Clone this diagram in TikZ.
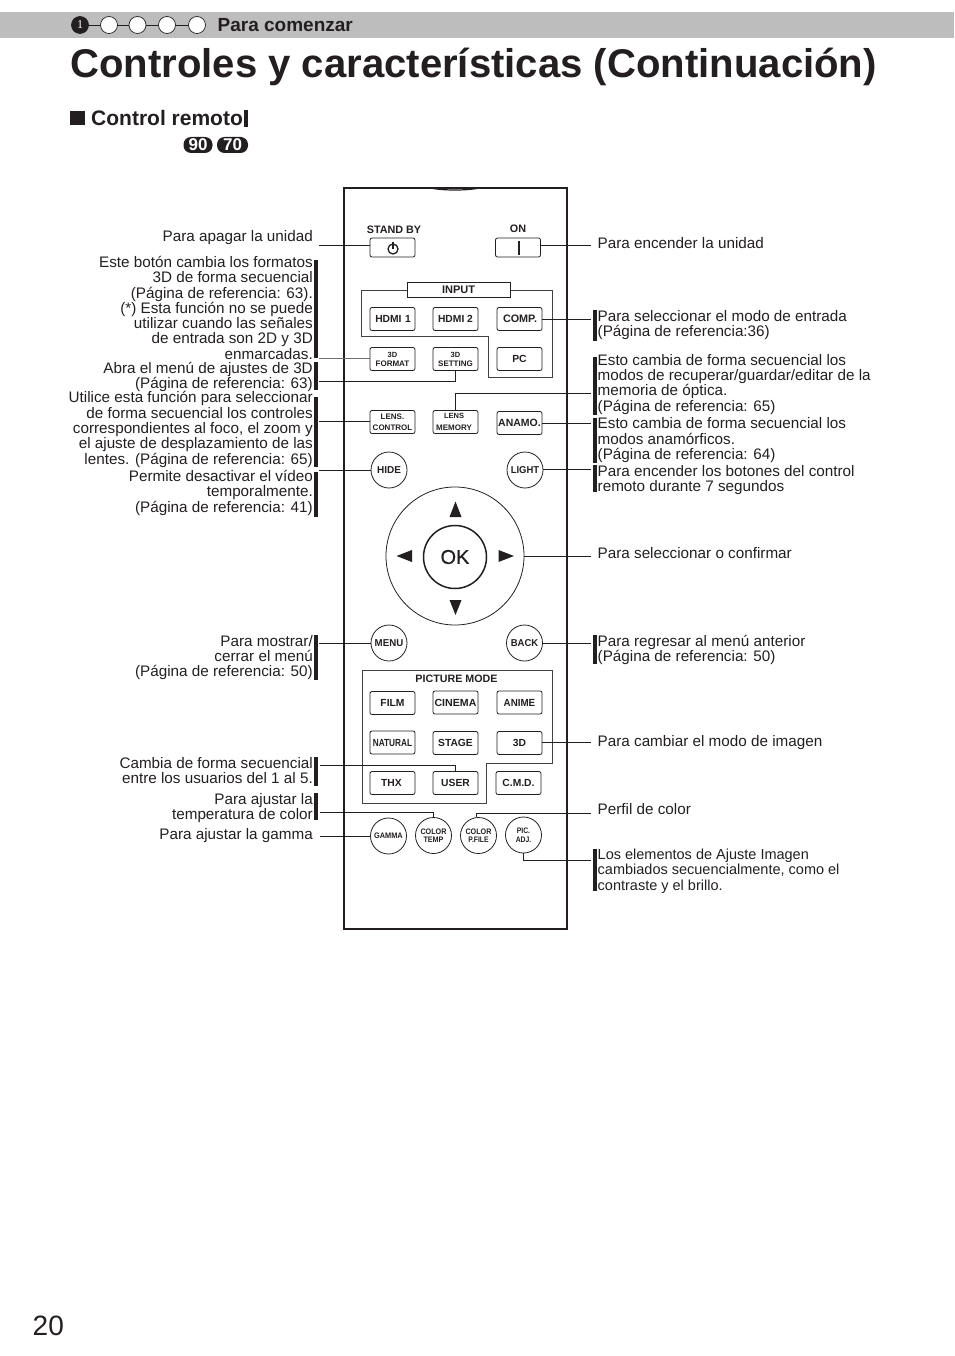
\documentclass[tikz,border=0pt]{standalone}
\usepackage{fontspec}
\usepackage{graphicx}
\setmainfont{Liberation Sans}
\newfontfamily\serifone{Liberation Serif}
\newfontfamily\okfont[FakeBold=0.7]{Liberation Sans}
\definecolor{ink}{HTML}{231F20}
\definecolor{band}{HTML}{BDBDBD}
\newcommand{\tl}{\rule{0pt}{11pt}}
\newcommand{\btnfont}[1]{\fontsize{#1}{#1}\selectfont\bfseries}
\tikzset{
  x=1pt,y=-1pt,
  rbtn/.style={draw=ink,line width=.8pt,rounded corners=2pt,minimum width=45pt,minimum height=23pt,inner sep=0pt,align=center,text=ink,font=\btnfont{10.3}},
  sbtn/.style={rbtn,font=\fontsize{8}{9.5}\selectfont\bfseries},
  cbtn/.style={draw=ink,line width=.8pt,circle,minimum size=36pt,inner sep=0pt,align=center,text=ink,font=\btnfont{10}},
  cbtnsm/.style={cbtn,font=\fontsize{8}{8.5}\selectfont\bfseries},
  conn/.style={draw=ink,line width=.8pt},
  bar/.style={draw=ink,line width=3.2pt},
  ltext/.style={anchor=north east,inner sep=0pt,align=right,text=ink,font=\fontsize{15.25}{15.3}\selectfont},
  rtext/.style={anchor=north west,inner sep=0pt,align=left,text=ink,font=\fontsize{15.25}{15.3}\selectfont},
  frame/.style={draw=ink!85,line width=1pt},
  stepdot/.style={circle,draw=ink,line width=.7pt,fill=white,minimum size=17pt,inner sep=0pt},
  badge/.style={fill=ink,rounded corners=7.5pt,text=white,inner sep=0pt,font=\fontsize{17}{17}\selectfont\bfseries},
  tri/.style={fill=ink,draw=none},
}
\begin{document}
\begin{tikzpicture}
\useasboundingbox (0,0) rectangle (954,1356);
% header
\fill[band] (0,12) rectangle (954,38.5);
\node[stepdot,fill=ink] (d1) at (80,25) {\textcolor{white}{\serifone\fontsize{12}{12}\selectfont 1}};
\node[stepdot] (d2) at (109,25) {};
\node[stepdot] (d3) at (137.5,25) {};
\node[stepdot] (d4) at (167,25) {};
\node[stepdot] (d5) at (197,25) {};
\draw[conn] (d1)--(d2);\draw[conn] (d2)--(d3);\draw[conn] (d3)--(d4);\draw[conn] (d4)--(d5);
\node[anchor=base west,inner sep=0pt,text=ink,font=\fontsize{19}{19}\selectfont\bfseries] (head) at (217.5,31.5) {Para comenzar};
\node[anchor=base west,inner sep=0pt,text=ink,font=\fontsize{40.1}{40.1}\selectfont\bfseries] (title) at (70,78) {Controles y características (Continuación)};
\fill[ink] (70,111) rectangle (85,125);
\node[anchor=base west,inner sep=0pt,text=ink,font=\fontsize{21}{21}\selectfont\bfseries] (sect) at (91,126) {Control remoto};
\draw[bar] (246,110)--(246,127);
\node[badge,minimum width=29pt,minimum height=16pt] (b90) at (198,145) {90};
\node[badge,minimum width=31pt,minimum height=16pt] (b70) at (232.5,145) {70};
\node[anchor=base west,inner sep=0pt,text=ink,font=\fontsize{28}{28}\selectfont] (page) at (32.5,1335) {20};
% remote body
\draw[ink,line width=1.7pt] (344,188) rectangle (567,929);
\draw[ink,line width=1.2pt] (433,188.5) .. controls (445,190.5) and (465,190.5) .. (477,188.5);
% frames
\draw[frame] (361,290)--(552,290)--(552,377)--(488,377)--(488,336)--(361,336)--cycle;
\draw[frame] (362,670)--(552,670)--(552,763)--(486,763)--(486,803)--(362,803)--cycle;
\node[draw=ink,line width=.9pt,fill=white,minimum width=103pt,minimum height=15pt,inner sep=0pt,text=ink,font=\btnfont{11}] (input) at (458.5,289.5) {INPUT};
\node[inner sep=0pt,text=ink,font=\btnfont{10.7}] (pmode) at (456.5,679) {PICTURE MODE};
% power row
\node[inner sep=0pt,text=ink,font=\btnfont{10.8}] (sbl) at (394,229.5) {STAND BY};
\node[inner sep=0pt,text=ink,font=\btnfont{10.8}] (onl) at (518,228.5) {ON};
\node[rbtn,minimum height=19pt] (sb) at (392.5,247.5) {};
\node[rbtn,minimum height=19pt] (on) at (518,247.5) {};
\draw[ink,line width=1.3pt] (393,249) circle (5);
\draw[ink,line width=1.3pt] (393,242)--(393,249);
\draw[ink,line width=1.6pt] (519,241)--(519,255);
% input buttons
\node[rbtn,text width=45pt] (h1) at (392.5,319) {\hspace*{1pt}HDMI 1};
\node[rbtn] (h2) at (455.5,319) {HDMI 2};
\node[rbtn] (comp) at (519.5,319) {\fontsize{10.8}{10.8}\selectfont\hspace*{1pt}COMP.};
\node[sbtn] (fmt) at (392.5,359) {\fontsize{7.5}{9.5}\selectfont 3D\\[-.5pt]FORMAT};
\node[sbtn] (set) at (455.5,359) {\fontsize{7.5}{9.5}\selectfont 3D\\[-.5pt]SETTING};
\node[rbtn] (pc) at (519.5,359) {PC};
\node[sbtn] (lc) at (392.5,422) {\fontsize{8}{10}\selectfont LENS.\\[1pt]CONTROL};
\node[sbtn] (lm) at (455.5,422) {\fontsize{7.5}{10}\selectfont\hspace*{-3pt}LENS\\[2pt]\hspace*{-3pt}MEMORY};
\node[rbtn] (ana) at (519.5,423) {\fontsize{10.5}{10.5}\selectfont ANAMO.};
\node[cbtn] (hide) at (389,470) {HIDE};
\node[cbtn] (light) at (525,470) {\scalebox{.95}[1]{LIGHT}};
% d-pad
\node[draw=ink,line width=.8pt,circle,minimum size=138pt,inner sep=0pt] (pad) at (455,556) {};
\node[draw=ink,line width=1.5pt,circle,minimum size=63pt,inner sep=0pt,text=ink,font=\fontsize{20}{20}\selectfont\okfont] (ok) at (455,557) {OK};
\fill[tri] (455.5,501.5)--(461.5,517)--(449.5,517)--cycle;
\fill[tri] (455.5,615)--(461.5,600)--(449.5,600)--cycle;
\fill[tri] (396.5,556)--(412,550)--(412,562)--cycle;
\fill[tri] (514,556)--(498.5,550)--(498.5,562)--cycle;
\node[cbtn] (menu) at (389,643) {\scalebox{.97}[1]{MENU}};
\node[cbtn] (back) at (524.5,643) {\scalebox{.95}[1]{BACK}};
% picture mode
\node[rbtn] (film) at (392.5,703) {FILM};
\node[rbtn] (cin) at (455.5,702.5) {\scalebox{1.03}[1]{CINEMA}};
\node[rbtn] (ani) at (519.5,702.5) {\scalebox{.95}[1]{ANIME}};
\node[rbtn] (nat) at (392.5,742.5) {\scalebox{.8}[1]{NATURAL}};
\node[rbtn] (stage) at (455.5,743) {STAGE};
\node[rbtn] (td) at (519.5,743) {3D};
\node[rbtn] (thx) at (392.5,783) {\hspace*{-2pt}THX};
\node[rbtn] (user) at (455.5,783) {USER};
\node[rbtn] (cmd) at (518.5,783) {C.M.D.};
% bottom circles
\node[cbtnsm] (gam) at (388.5,836) {\scalebox{.92}[1]{GAMMA}};
\node[cbtnsm] (ct) at (433.5,835.5) {\scalebox{.9}[1]{COLOR}\\\scalebox{.9}[1]{TEMP}};
\node[cbtnsm] (cp) at (478.5,835.5) {\scalebox{.9}[1]{COLOR}\\\scalebox{.85}[1]{P.FILE}};
\node[cbtnsm] (pa) at (523.5,835) {\scalebox{.85}[1]{PIC.}\\\scalebox{.85}[1]{ADJ.}};
% free ends, left
\coordinate (a1) at (319,245);
\coordinate (a2) at (319,358);
\coordinate (a3) at (319,381.5);
\coordinate (a4) at (319,421.5);
\coordinate (a5) at (319,470);
\coordinate (a6) at (319,643);
\coordinate (a7) at (320,765);
\coordinate (a8) at (320,812);
\coordinate (a9) at (320,836);
% free ends, right
\coordinate (r1) at (591,245);
\coordinate (r2) at (591,319);
\coordinate (r3) at (591,393);
\coordinate (r4) at (591,423);
\coordinate (r5) at (591,469);
\coordinate (r6) at (591,556);
\coordinate (r7) at (591,643);
\coordinate (r8) at (591,742);
\coordinate (r9) at (591,813);
\coordinate (r10) at (591,860);
% connectors
\draw[conn] (a1) -- (a1 -| sb.west);
\draw[conn,draw=ink!65] (a2) -- (a2 -| fmt.west);
\draw[conn] (a3) -- (a3 -| set.south) -- (set.south);
\draw[conn] (a4) -- (a4 -| lc.west);
\draw[conn] (a5) -- (hide.west);
\draw[conn] (a6) -- (menu.west);
\draw[conn] (a7) -- (a7 -| user.north) -- (user.north);
\draw[conn] (a8) -- (a8 -| ct.north) -- (ct.north);
\draw[conn] (a9) -- (gam.west);
\draw[conn] (r1) -- (r1 -| on.east);
\draw[conn] (r2) -- (r2 -| comp.east);
\draw[conn] (r3) -- (r3 -| lm.north) -- (lm.north);
\draw[conn] (r4) -- (r4 -| ana.east);
\draw[conn] (r5) -- (r5 -| light.east);
\draw[conn] (r6) -- (r6 -| pad.east);
\draw[conn] (r7) -- (r7 -| back.east);
\draw[conn] (r8) -- (r8 -| td.east);
\draw[conn] (r9) -- ([xshift=-2.5pt]r9 -| cp.north) -- ([xshift=-2.5pt]cp.north);
\draw[conn] (r10) -- (r10 -| pa.south) -- (pa.south);
% bars, left
\draw[bar] (316,260)--(316,358);
\draw[bar] (316,362)--(316,390);
\draw[bar] (316,397)--(316,467);
\draw[bar] (316,472)--(316,517);
\draw[bar] (316,635)--(316,680);
\draw[bar] (316,757)--(316,786);
\draw[bar] (316,793)--(316,820);
% bars, right
\draw[bar] (595,310)--(595,341);
\draw[bar] (595,357)--(595,415);
\draw[bar] (595,418)--(595,463);
\draw[bar] (595,465)--(595,492);
\draw[bar] (595,635)--(595,664);
\draw[bar] (595,849)--(595,891);
% texts, left
\node[ltext] (t1) at (313,230.5) {\tl Para apagar la unidad};
\node[ltext] (t2) at (313,256) {\tl Este botón cambia los formatos\\3D de forma secuencial\\(Página de referencia: 63).\\(*) Esta función no se puede\\utilizar cuando las señales\\de entrada son 2D y 3D\\enmarcadas.};
\node[ltext] (t3) at (313,362) {\tl Abra el menú de ajustes de 3D\\(Página de referencia: 63)};
\node[ltext] (t4) at (313,391.5) {\tl Utilice esta función para seleccionar\\de forma secuencial los controles\\correspondientes al foco, el zoom y\\el ajuste de desplazamiento de las\\lentes. (Página de referencia: 65)};
\node[ltext] (t5) at (313,470) {\tl Permite desactivar el vídeo\\temporalmente.\\(Página de referencia: 41)};
\node[ltext] (t6) at (313,635) {\tl Para mostrar/\\cerrar el menú\\(Página de referencia: 50)};
\node[ltext] (t7) at (313,757) {\tl Cambia de forma secuencial\\entre los usuarios del 1 al 5.};
\node[ltext] (t8) at (313,793) {\tl Para ajustar la\\temperatura de color};
\node[ltext] (t9) at (313,828) {\tl Para ajustar la gamma};
% texts, right
\node[rtext] (u1) at (597.5,237) {\tl Para encender la unidad};
\node[rtext] (u2) at (597.5,310) {\tl Para seleccionar el modo de entrada\\(Página de referencia:36)};
\node[rtext] (u3) at (597.5,354) {\tl Esto cambia de forma secuencial los\\modos de recuperar/guardar/editar de la\\memoria de óptica.\\(Página de referencia: 65)};
\node[rtext] (u4) at (597.5,417.5) {\tl Esto cambia de forma secuencial los\\modos anamórficos.\\(Página de referencia: 64)};
\node[rtext] (u5) at (597.5,465) {\tl Para encender los botones del control\\remoto durante 7 segundos};
\node[rtext] (u6) at (597.5,547) {\tl Para seleccionar o confirmar};
\node[rtext] (u7) at (597.5,635) {\tl Para regresar al menú anterior\\(Página de referencia: 50)};
\node[rtext] (u8) at (597.5,735) {\tl Para cambiar el modo de imagen};
\node[rtext] (u9) at (597.5,803) {\tl Perfil de color};
\node[rtext,font=\fontsize{14.5}{15.2}\selectfont] (u10) at (597.5,848.5) {\tl Los elementos de Ajuste Imagen\\cambiados secuencialmente, como el\\contraste y el brillo.};
\end{tikzpicture}
\end{document}
